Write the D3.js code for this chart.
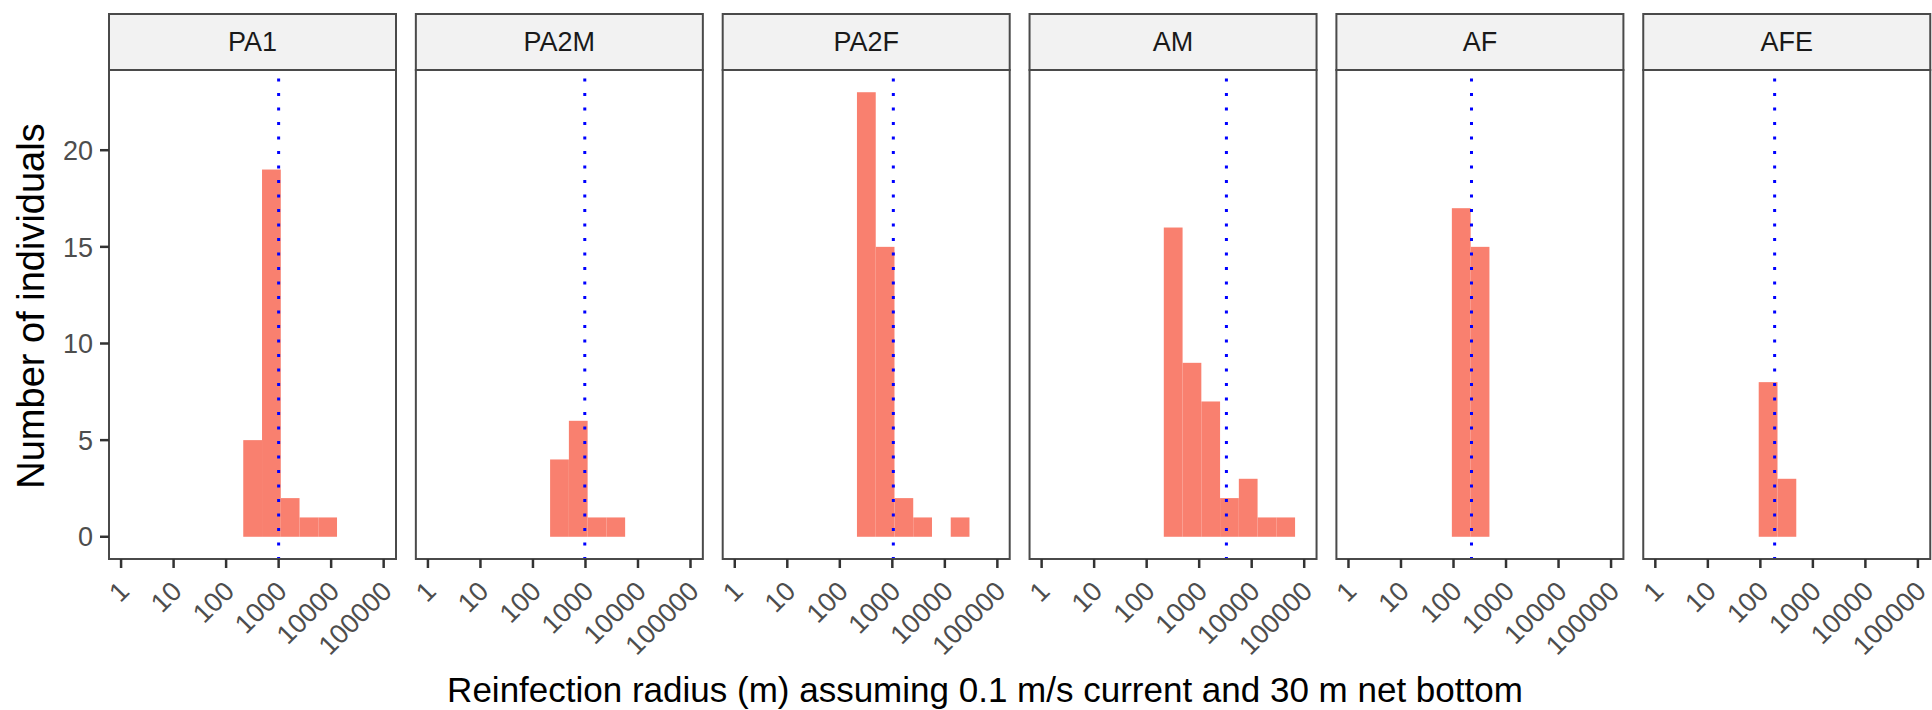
<!DOCTYPE html>
<html>
<head>
<meta charset="utf-8">
<script src="https://cdn.jsdelivr.net/npm/d3@7"></script>
<style>
  html, body { margin: 0; padding: 0; background: #fff; }
  svg { display: block; font-family: "Liberation Sans", Arial, sans-serif; }
</style>
</head>
<body>
<svg id="chart" width="1932" height="710"></svg>
<script>
// ---- data ----
const facets = ["PA1", "PA2M", "PA2F", "AM", "AF", "AFE"];
// histogram bin edges (m), shared by all facets
const binEdges = [93, 212, 483, 1099, 2500, 5690, 12940, 29440, 66990];
const countsPA1  = [0, 5, 19, 2, 1, 1, 0, 0];
const countsPA2M = [0, 4, 6, 1, 1, 0, 0, 0];
const countsPA2F = [0, 23, 15, 2, 1, 0, 1, 0];
const countsAM   = [0, 16, 9, 7, 2, 3, 1, 1];
const countsAF   = [17, 15, 0, 0, 0, 0, 0, 0];
const countsAFE  = [8, 3, 0, 0, 0, 0, 0, 0];
// dotted reference line per facet (m)
const refRadius = [1000, 970, 1045, 3300, 220, 187];
const xTicks = [1, 10, 100, 1000, 10000, 100000];
const xTickLabels = ["1", "10", "100", "1000", "10000", "100000"];
const yTicks = [0, 5, 10, 15, 20];
const xTitle = "Reinfection radius (m) assuming 0.1 m/s current and 30 m net bottom";
const yTitle = "Number of individuals";

const countsByFacet = [countsPA1, countsPA2M, countsPA2F, countsAM, countsAF, countsAFE];

// ---- layout ----
const svg = d3.select("#chart");
const panelLeft0 = 109, panelStep = 306.85, panelW = 287;
const stripTop = 14, panelTop = 70, panelBottom = 559;
const tickFont = 27, stripFont = 27, xTitleFont = 35, yTitleFont = 38;

const x = d3.scaleLog().domain([Math.pow(10, -0.23), Math.pow(10, 5.235)]).range([0, panelW]);
const y = d3.scaleLinear().domain([-1.15, 24.15]).range([panelBottom, panelTop]);

facets.forEach((name, i) => {
  const g = svg.append("g").attr("transform", `translate(${panelLeft0 + i * panelStep},0)`);

  g.append("rect").attr("x", 0).attr("y", panelTop).attr("width", panelW)
    .attr("height", panelBottom - panelTop).attr("fill", "#fff");

  const bins = countsByFacet[i].map((c, k) => ({x0: binEdges[k], x1: binEdges[k + 1], c}))
    .filter(d => d.c > 0);
  g.selectAll("rect.bar").data(bins).enter().append("rect")
    .attr("class", "bar")
    .attr("x", d => x(d.x0))
    .attr("width", d => x(d.x1) - x(d.x0))
    .attr("y", d => y(d.c))
    .attr("height", d => y(0) - y(d.c))
    .attr("fill", "#F9806F");

  g.append("line")
    .attr("x1", x(refRadius[i])).attr("x2", x(refRadius[i]))
    .attr("y1", panelTop).attr("y2", panelBottom)
    .attr("stroke", "#0000FF").attr("stroke-width", 3)
    .attr("stroke-dasharray", "3 11.5").attr("stroke-dashoffset", 6);

  g.append("rect").attr("x", 0).attr("y", panelTop).attr("width", panelW)
    .attr("height", panelBottom - panelTop).attr("fill", "none")
    .attr("stroke", "#4a4a4a").attr("stroke-width", 2);

  g.append("rect").attr("x", 0).attr("y", stripTop).attr("width", panelW)
    .attr("height", panelTop - stripTop).attr("fill", "#F2F2F2")
    .attr("stroke", "#4a4a4a").attr("stroke-width", 2);
  g.append("text").attr("x", panelW / 2).attr("y", (stripTop + panelTop) / 2)
    .attr("text-anchor", "middle").attr("dominant-baseline", "central")
    .attr("font-size", stripFont).attr("fill", "#1A1A1A").text(name);

  const xt = g.append("g");
  xt.selectAll("line").data(xTicks).enter().append("line")
    .attr("x1", d => x(d)).attr("x2", d => x(d))
    .attr("y1", panelBottom).attr("y2", panelBottom + 9)
    .attr("stroke", "#333333").attr("stroke-width", 2.5);
  xt.selectAll("text").data(xTicks).enter().append("text")
    .attr("transform", d => `translate(${x(d) - 4},${panelBottom + 20}) rotate(-45)`)
    .attr("text-anchor", "end").attr("dy", "0.72em")
    .attr("font-size", tickFont).attr("fill", "#4D4D4D")
    .text((d, k) => xTickLabels[k]);

  if (i === 0) {
    const yt = g.append("g");
    yt.selectAll("line").data(yTicks).enter().append("line")
      .attr("x1", -9).attr("x2", 0).attr("y1", d => y(d)).attr("y2", d => y(d))
      .attr("stroke", "#333333").attr("stroke-width", 2.5);
    yt.selectAll("text").data(yTicks).enter().append("text")
      .attr("x", -16).attr("y", d => y(d)).attr("dy", "0.36em")
      .attr("text-anchor", "end").attr("font-size", tickFont).attr("fill", "#4D4D4D")
      .text(d => d);
  }
});

// axis titles
svg.append("text").attr("x", 985).attr("y", 702)
  .attr("text-anchor", "middle").attr("font-size", xTitleFont).attr("fill", "#000")
  .text(xTitle);
svg.append("text")
  .attr("transform", `translate(31,306) rotate(-90)`)
  .attr("text-anchor", "middle").attr("dy", "0.35em")
  .attr("font-size", yTitleFont).attr("fill", "#000").text(yTitle);
</script>
</body>
</html>
